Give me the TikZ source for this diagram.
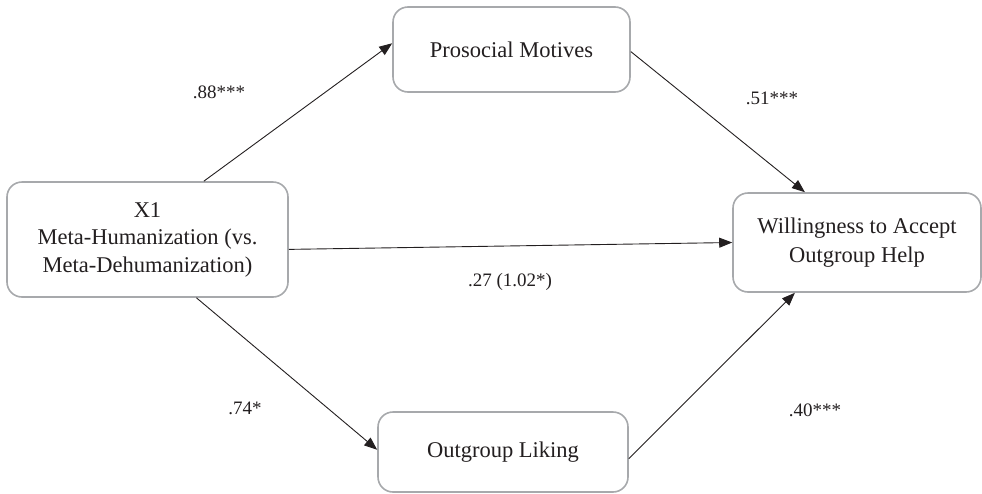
\documentclass[tikz,border=0pt]{standalone}
\usepackage{fontspec}
\setmainfont{Liberation Serif}
\usetikzlibrary{arrows.meta}
\definecolor{txt}{HTML}{231F20}
\definecolor{boxline}{HTML}{A7A9AC}
\begin{document}
\begin{tikzpicture}[x=1pt,y=-1pt,
  box/.style={draw=boxline,line width=1.6pt,rounded corners=15pt,fill=white,
    text=txt,align=center,inner sep=0pt,
    font=\fontsize{22.5}{27.5}\selectfont},
  lbl/.style={text=txt,inner sep=0pt,font=\fontsize{19}{22}\selectfont},
  conn/.style={draw=txt,line width=0.9pt,-{Triangle[length=13pt,width=10pt]}}]
\useasboundingbox (0,0) rectangle (982,493);
\node[box,minimum width=281pt,minimum height=115pt] (x1) at (147.5,239.5)
  {X1\\Meta-Humanization (vs.\\Meta-Dehumanization)};
\node[box,minimum width=237pt,minimum height=85pt] (pm) at (511.5,49.5) {Prosocial Motives};
\node[box,minimum width=248pt,minimum height=99pt,font=\fontsize{22.5}{29.5}\selectfont] (wa) at (857,242.5)
  {Willingness to Accept\\Outgroup Help};
\node[box,minimum width=250pt,minimum height=80pt] (ol) at (503,452) {Outgroup Liking};
\draw[conn] (x1.46.5) -- (pm.177.8);
\draw[conn] (pm.-1.7) -- (wa.136.4);
\draw[conn] (x1.-4.3) -- (wa.west);
\draw[conn] (x1.-50.4) -- (ol.179);
\draw[conn] (ol.-3.7) -- (wa.219.5);
\node[lbl] (l1) at (219,92) {.88***};
\node[lbl] (l2) at (772,98) {.51***};
\node[lbl] (l3) at (510,282) {.27 (1.02*)};
\node[lbl] (l4) at (245,408) {.74*};
\node[lbl] (l5) at (815,410) {.40***};
\end{tikzpicture}
\end{document}
